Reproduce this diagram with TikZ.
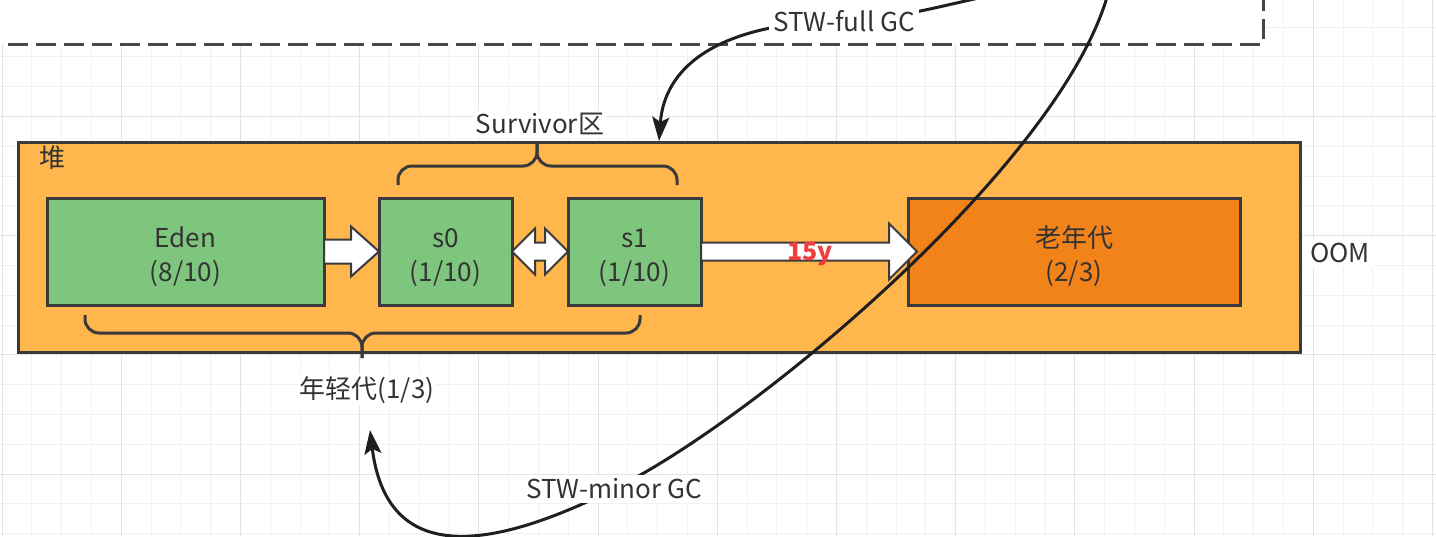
\documentclass[tikz,border=0pt]{standalone}
\usepackage{fontspec}
\setmainfont{Noto Sans CJK SC}
\usepackage{xcolor}
\usepackage{tikz}
\usetikzlibrary{positioning, calc, arrows.meta}

\definecolor{texto}{HTML}{333333}
\definecolor{borda}{HTML}{3A3A3A}
\definecolor{pilha}{HTML}{FFB64D}
\definecolor{verdeclaro}{HTML}{7EC57E}
\definecolor{laranjaforte}{HTML}{F2831A}
\definecolor{vermelhotexto}{HTML}{F03C3C}
\definecolor{gradefina}{HTML}{F1F1F1}
\definecolor{gradeforte}{HTML}{E4E4E4}

\begin{document}
\begin{tikzpicture}[
		    x=1pt, y=-1pt,
		    every node/.style={inner sep=0pt, outer sep=0pt, align=center, text=texto, font=\fontsize{26}{35}\selectfont},
		    node distance=55pt
		]
		\tikzset{
		    caixa/.style={draw=borda, line width=3pt, minimum height=107pt,
		        font=\fontsize{26}{34}\selectfont, text height=65pt},
		    verde/.style={caixa, fill=verdeclaro},
		    laranja/.style={caixa, fill=laranjaforte},
		    claro/.style={draw=borda, line width=3pt, fill=pilha},
		    seta/.style={draw=borda, line width=2pt, fill=white},
		    chave/.style={draw=borda, line width=3pt, rounded corners=14pt},
		    curva/.style={draw=black!88, line width=3pt, -{Stealth[length=24pt, width=17pt, inset=5pt]}},
		    rotulo/.style={fill=white, inner sep=4pt}
		}
		\useasboundingbox (0,0) rectangle (1436,536);
		\clip (0,0) rectangle (1436,536);
		% grade
		\foreach \i in {0,...,48} \draw[gradefina, line width=1pt] (2+\i*29.8,0) -- (2+\i*29.8,536);
		\foreach \j in {-1,...,17} \draw[gradefina, line width=1pt] (0,27+\j*29.8) -- (1436,27+\j*29.8);
		\foreach \i in {0,4,...,48} \draw[gradeforte, line width=1pt] (2+\i*29.8,0) -- (2+\i*29.8,536);
		\foreach \j in {-1,3,...,15} \draw[gradeforte, line width=1pt] (0,27+\j*29.8) -- (1436,27+\j*29.8);
		% area tracejada de cima
		\draw[fill=white, draw=black!72, line width=3pt, dash pattern=on 20pt off 8pt] (-30,-30) rectangle (1263,44);

		% heap
		\node[claro, anchor=north west, minimum width=1282pt, minimum height=210pt] (heap) at (18,142) {};
		\node (heaplbl) at (52,158) {堆};

		\node[verde, anchor=north west, minimum width=277pt] (eden) at (47,198) {Eden\\(8/10)};
		\node[verde, minimum width=133pt, right=55pt of eden] (s0) {s0\\(1/10)};
		\node[verde, minimum width=133pt, right=56pt of s0] (s1) {s1\\(1/10)};
		\node[laranja, minimum width=332pt, right=207pt of s1] (old) {老年代\\(2/3)};
		\node[rotulo, right=6pt of heap.east, yshift=-6pt] (oom) {OOM};

		% setas largas
		\draw[seta] ($(eden.east)+(0,-12)$) -- ++(27,0) -- ++(0,-13) -- (s0.west) -- ++(-28,25) -- ++(0,-13) -- ++(-27,0) -- cycle;
		\draw[seta] (s0.east) -- ++(23,-23) -- ++(0,14) -- ++(10,0) -- ++(0,-14) -- (s1.west) -- ++(-23,23) -- ++(0,-14) -- ++(-10,0) -- ++(0,14) -- cycle;
		\draw[seta] ($(s1.east)+(0,-9)$) -- ++(188,0) -- ++(0,-19) -- ($(old.west)+(9,0)$) -- ++(-28,28) -- ++(0,-19) -- ++(-188,0) -- cycle;
		\node[text=vermelhotexto, font=\fontsize{25}{34}\selectfont\bfseries] (idade) at (810,254) {15y};

		% chaves
		\draw[chave] (398,185) -- (398,166) -- (537,166) -- (537,142);
		\draw[chave] (677,185) -- (677,166) -- (537,166) -- (537,142);
		\node[rotulo, inner sep=2pt] (survivor) at (540,124) {Survivor区};
		\draw[chave] (85,315) -- (85,333) -- (362,333) -- (362,358);
		\draw[chave] (640,315) -- (640,333) -- (362,333) -- (362,358);
		\node[rotulo, inner sep=2pt] (young) at (367,390) {年轻代(1/3)};

		% gc
		\coordinate (fullsrc) at (1010,-8);
		\coordinate (fullmid) at (844,21);
		\coordinate (fulltip) at (659,141);
		\draw[curva] (fullsrc) .. controls (960,0) and (900,20) .. (fullmid) node[rotulo] {STW-full GC}
		    .. controls (730,22) and (665,60) .. (fulltip);
		\coordinate (minorsrc) at (1109,-10);
		\coordinate (minormid) at (614,489);
		\coordinate (minortip) at (370,430);
		\draw[curva] (minorsrc) .. controls (1065,160) and (755,420) .. (minormid) node[rotulo] {STW-minor GC}
		    .. controls (480,556) and (386,560) .. (minortip);
		\end{tikzpicture}
\end{document}
